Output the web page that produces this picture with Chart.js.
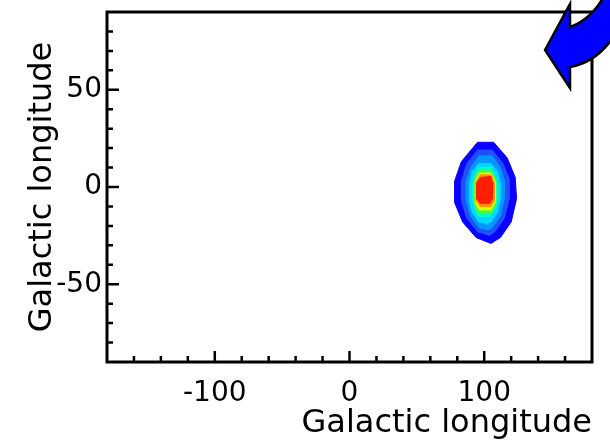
<!DOCTYPE html>
<html lang="en">
<head>
  <meta charset="UTF-8" />
  <title>Galactic map</title>
  <script src="https://cdn.jsdelivr.net/npm/chart.js"></script>
  <style>
    body { margin: 0; background: #fff; }
    #map { display: block; }
  </style>
</head>
<body>
  <canvas id="map" width="610" height="445"></canvas>

  <script>
    // axis ticks
    const xTickLabels = [-100, 0, 100];
    const xMinorTicks = [-160, -140, -120, -80, -60, -40, -20, 20, 40, 60, 80, 120, 140, 160];
    const yTickLabels = [-50, 0, 50];
    const yMinorTicks = [-80, -70, -60, -40, -30, -20, -10, 10, 20, 30, 40, 60, 70, 80];

    // contour bands, outermost first (longitude / latitude of each band outline)
    const bandColors = ['#0a00ff', '#1e50ff', '#0096ff', '#00d8ff', '#00ffc8', '#40ff40', '#e6ff00', '#ff9600', '#ff1e00'];
    const bandLon = [
      [95, 107, 117, 123, 124, 120, 112, 105, 94, 84, 78, 78, 83],
      [95, 106, 114, 118.5, 118.5, 115, 108, 104, 95, 87, 83, 83, 87],
      [96, 106, 112, 115, 115, 112, 106, 103, 96, 90, 86.5, 86.5, 90],
      [96, 105, 110, 112, 112, 110, 105, 102, 96, 91, 89, 89, 91],
      [96, 105, 108.5, 110, 110, 108.5, 104, 101, 96, 93, 91.5, 91.5, 93],
      [96, 105, 108.5, 108.5, 105, 96, 92.6, 92.6],
      [96.5, 105, 108, 108, 105, 96.5, 93.3, 93.3],
      [97, 105, 107.4, 107.4, 105, 97, 93.8, 93.8],
      [97, 105, 106.2, 106.2, 104, 97, 94.3, 94.3]
    ];
    const bandLat = [
      [23, 23, 15, 5, -6, -18, -26, -29, -26, -18, -8, 3, 13],
      [19, 19, 12, 4, -6, -16, -23, -25, -23, -16, -7, 3, 12],
      [16, 16, 10, 3, -6, -15, -21, -22, -21, -15, -7, 3, 10],
      [12, 12, 8, 2, -6, -13, -18, -19, -18, -13, -7, 2, 8],
      [10, 10, 6, 1, -6, -11, -15, -15.3, -15, -11, -6, 1, 6],
      [8.4, 8.4, 4, -9, -13.6, -13.6, -9, 4],
      [7.2, 7.2, 3, -8, -11.8, -11.8, -8, 3],
      [6.3, 6.3, 2.5, -7, -10.1, -10.1, -7, 2.5],
      [4.9, 5.5, 2, -6, -8.4, -8.4, -6, 2]
    ];

    const FONT = 'DejaVu Sans';

    const datasets = bandLon.map((lons, i) => {
      const pts = lons.map((lon, j) => ({ x: lon, y: bandLat[i][j] }));
      pts.push(pts[0]); // close the outline
      return {
        data: pts,
        showLine: true,
        fill: 'shape',
        backgroundColor: bandColors[i],
        borderColor: bandColors[i],
        borderWidth: 1,
        pointRadius: 0,
        tension: 0,
        order: bandLon.length - i
      };
    });

    // frame, inward tick marks and the blue arrow
    const decorations = {
      id: 'decorations',
      afterDraw(chart) {
        const { ctx, chartArea: a, scales: { x, y } } = chart;
        ctx.save();
        ctx.strokeStyle = '#000';
        ctx.lineWidth = 2.5;
        ctx.beginPath();
        xTickLabels.forEach(v => { const p = x.getPixelForValue(v); ctx.moveTo(p, a.bottom); ctx.lineTo(p, a.bottom - 11); });
        xMinorTicks.forEach(v => { const p = x.getPixelForValue(v); ctx.moveTo(p, a.bottom); ctx.lineTo(p, a.bottom - 6); });
        yTickLabels.forEach(v => { const p = y.getPixelForValue(v); ctx.moveTo(a.left, p); ctx.lineTo(a.left + 12, p); });
        yMinorTicks.forEach(v => { const p = y.getPixelForValue(v); ctx.moveTo(a.left, p); ctx.lineTo(a.left + 6, p); });
        ctx.stroke();

        ctx.lineWidth = 3;
        ctx.strokeRect(a.left, a.top, a.right - a.left, a.bottom - a.top);

        // curved arrow in the top right corner
        ctx.beginPath();
        ctx.moveTo(545, 50);
        ctx.lineTo(570, 4);
        ctx.lineTo(570, 27);
        ctx.quadraticCurveTo(590, 20, 603, -2);
        ctx.lineTo(614, -2);
        ctx.lineTo(614, 36);
        ctx.quadraticCurveTo(597, 62, 570, 67);
        ctx.lineTo(570, 88);
        ctx.closePath();
        ctx.fillStyle = '#0000ff';
        ctx.fill();
        ctx.lineWidth = 2.5;
        ctx.lineJoin = 'miter';
        ctx.stroke();
        ctx.restore();
      }
    };

    new Chart(document.getElementById('map'), {
      type: 'scatter',
      data: { datasets },
      options: {
        responsive: false,
        animation: false,
        layout: { padding: { top: 12, right: 18, bottom: 0, left: 0 } },
        plugins: { legend: { display: false }, tooltip: { enabled: false } },
        scales: {
          x: {
            type: 'linear',
            min: -180,
            max: 180,
            afterBuildTicks: s => { s.ticks = xTickLabels.map(v => ({ value: v })); },
            afterFit: s => { s.height = 83; s.paddingLeft = 0; s.paddingRight = 0; },
            grid: { display: false, drawTicks: false },
            border: { display: false },
            ticks: { color: '#000', padding: 15, font: { family: FONT, size: 28 } },
            title: {
              display: true,
              text: 'Galactic longitude',
              align: 'end',
              color: '#000',
              padding: { top: 0, bottom: 2 },
              font: { family: FONT, size: 32 }
            }
          },
          y: {
            type: 'linear',
            min: -90,
            max: 90,
            afterBuildTicks: s => { s.ticks = yTickLabels.map(v => ({ value: v })); },
            afterFit: s => { s.width = 107; s.paddingTop = 0; s.paddingBottom = 0; },
            grid: { display: false, drawTicks: false },
            border: { display: false },
            ticks: { color: '#000', padding: 5, font: { family: FONT, size: 28 } },
            title: {
              display: true,
              text: 'Galactic longitude',
              color: '#000',
              padding: { top: 23, bottom: 0 },
              font: { family: FONT, size: 32 }
            }
          }
        }
      },
      plugins: [decorations]
    });
  </script>
</body>
</html>
